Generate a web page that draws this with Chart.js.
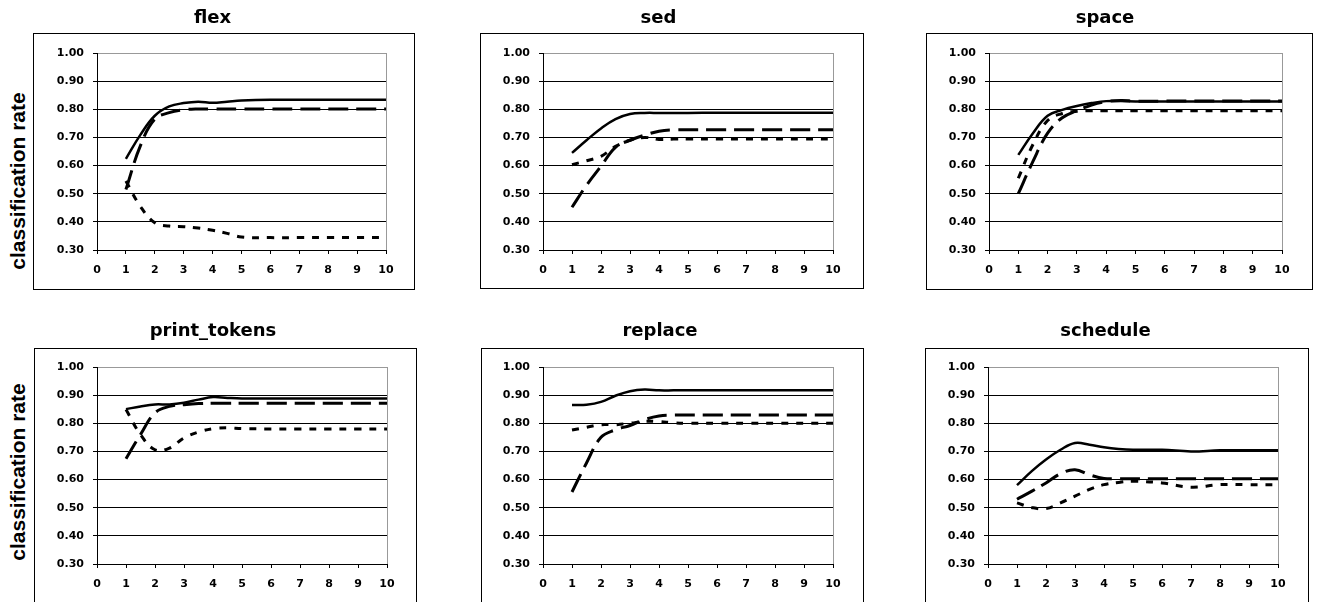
<!DOCTYPE html>
<html>
<head>
<meta charset="utf-8">
<script src="https://cdn.jsdelivr.net/npm/chart.js@4.4.0/dist/chart.umd.min.js"></script>
<style>
  body { margin: 0; width: 1322px; height: 602px; overflow: hidden; background: #fff; position: relative; }
  .box { position: absolute; border: 1px solid #000; box-sizing: border-box; }
  canvas { position: absolute; }
  .ylabel { position: absolute; left: 17.5px; font: bold 21px "Liberation Sans", Arial, sans-serif; white-space: nowrap; transform: translate(-50%, -50%) rotate(-90deg); }
</style>
</head>
<body>
<div class="box" style="left:33px;top:33px;width:382px;height:257px"></div>
<div class="box" style="left:480px;top:33px;width:384px;height:256px"></div>
<div class="box" style="left:926px;top:33px;width:387px;height:257px"></div>
<div class="box" style="left:34px;top:348px;width:383px;height:300px"></div>
<div class="box" style="left:481px;top:348px;width:383px;height:300px"></div>
<div class="box" style="left:925px;top:348px;width:384px;height:300px"></div>

<canvas id="flex" width="367" height="300" style="left:39px;top:0px"></canvas>
<canvas id="sed" width="369" height="300" style="left:484px;top:0px"></canvas>
<canvas id="space" width="374" height="300" style="left:928px;top:0px"></canvas>
<canvas id="print_tokens" width="368" height="302" style="left:39px;top:300px"></canvas>
<canvas id="replace" width="366" height="302" style="left:487px;top:300px"></canvas>
<canvas id="schedule" width="365" height="302" style="left:933px;top:300px"></canvas>

<div class="ylabel" style="top:181px">classification rate</div>
<div class="ylabel" style="top:472px">classification rate</div>

<script>
// x positions shared by every series
const xs = [1, 1.5, 2, 2.5, 3, 3.5, 4, 4.5, 5, 6, 7, 8, 9, 10];

const flexSolid  = [0.624, 0.709, 0.777, 0.810, 0.822, 0.827, 0.823, 0.827, 0.831, 0.834, 0.834, 0.834, 0.834, 0.834];
const flexDashed = [0.515, 0.670, 0.765, 0.788, 0.798, 0.801, 0.801, 0.801, 0.801, 0.801, 0.801, 0.801, 0.801, 0.801];
const flexDotted = [0.545, 0.455, 0.397, 0.385, 0.383, 0.378, 0.370, 0.359, 0.346, 0.344, 0.344, 0.344, 0.344, 0.344];

const sedSolid  = [0.645, 0.690, 0.732, 0.765, 0.783, 0.787, 0.787, 0.787, 0.787, 0.788, 0.788, 0.788, 0.788, 0.788];
const sedDashed = [0.452, 0.530, 0.598, 0.665, 0.690, 0.708, 0.722, 0.727, 0.727, 0.727, 0.727, 0.727, 0.727, 0.727];
const sedDotted = [0.603, 0.617, 0.633, 0.668, 0.690, 0.700, 0.693, 0.694, 0.694, 0.694, 0.694, 0.694, 0.694, 0.694];

const spaceSolid  = [0.638, 0.715, 0.777, 0.798, 0.812, 0.822, 0.829, 0.829, 0.828, 0.828, 0.828, 0.828, 0.828, 0.828];
const spaceDashed = [0.500, 0.615, 0.715, 0.770, 0.795, 0.815, 0.827, 0.831, 0.829, 0.829, 0.829, 0.829, 0.829, 0.829];
const spaceDotted = [0.555, 0.675, 0.760, 0.785, 0.793, 0.795, 0.795, 0.795, 0.795, 0.795, 0.795, 0.795, 0.795, 0.795];

const printSolid  = [0.850, 0.860, 0.867, 0.867, 0.873, 0.884, 0.893, 0.890, 0.888, 0.888, 0.888, 0.888, 0.888, 0.888];
const printDashed = [0.674, 0.760, 0.837, 0.860, 0.866, 0.870, 0.871, 0.871, 0.871, 0.871, 0.871, 0.871, 0.871, 0.871];
const printDotted = [0.849, 0.760, 0.706, 0.712, 0.748, 0.769, 0.781, 0.784, 0.781, 0.780, 0.780, 0.780, 0.780, 0.780];

const replaceSolid  = [0.865, 0.866, 0.876, 0.898, 0.914, 0.920, 0.917, 0.917, 0.917, 0.917, 0.917, 0.917, 0.917, 0.917];
const replaceDashed = [0.556, 0.659, 0.750, 0.777, 0.792, 0.813, 0.826, 0.829, 0.829, 0.829, 0.829, 0.829, 0.829, 0.829];
const replaceDotted = [0.776, 0.786, 0.795, 0.795, 0.800, 0.807, 0.806, 0.802, 0.800, 0.800, 0.800, 0.800, 0.800, 0.800];

const scheduleSolid  = [0.580, 0.629, 0.671, 0.706, 0.730, 0.724, 0.715, 0.709, 0.706, 0.706, 0.700, 0.704, 0.704, 0.704];
const scheduleDashed = [0.530, 0.558, 0.588, 0.621, 0.635, 0.617, 0.604, 0.603, 0.603, 0.603, 0.603, 0.603, 0.603, 0.603];
const scheduleDotted = [0.517, 0.501, 0.497, 0.517, 0.541, 0.565, 0.582, 0.590, 0.594, 0.588, 0.573, 0.582, 0.582, 0.582];

const tickFont = { family: 'DejaVu Sans', size: 11, weight: 'bold' };

function pts(values) {
    return values.map((v, i) => ({ x: xs[i], y: v }));
}

function makeChart(id, title, solid, dashed, dotted, g) {
    return new Chart(document.getElementById(id), {
        type: 'line',
        data: {
            datasets: [
                { label: 'solid', data: pts(solid), borderColor: '#000', borderWidth: 2.5 },
                { label: 'dashed', data: pts(dashed), borderColor: '#000', borderWidth: 3, borderDash: [20, 8] },
                { label: 'dotted', data: pts(dotted), borderColor: '#000', borderWidth: 3, borderDash: [7, 8] }
            ]
        },
        options: {
            responsive: false,
            animation: false,
            devicePixelRatio: 1,
            layout: { padding: { left: 0, right: 20, top: 0, bottom: g.bottom } },
            elements: { point: { radius: 0 }, line: { tension: 0.4, fill: false } },
            plugins: {
                legend: { display: false },
                tooltip: { enabled: false },
                title: {
                    display: true,
                    text: title,
                    color: '#000',
                    font: { family: 'DejaVu Sans', size: 18, weight: 'bold' },
                    padding: { top: g.tTop, bottom: g.tBottom }
                }
            },
            scales: {
                x: {
                    type: 'linear',
                    min: 0,
                    max: 10,
                    ticks: { stepSize: 1, color: '#000', font: tickFont, padding: 10, maxRotation: 0, autoSkip: false },
                    grid: {
                        color: ctx => (ctx.tick && ctx.tick.value === 10) ? '#999' : 'rgba(0,0,0,0)',
                        tickColor: '#000',
                        tickLength: 4
                    },
                    border: { color: '#000' },
                    afterFit: s => { s.height = 30; }
                },
                y: {
                    min: 0.3,
                    max: 1.0,
                    ticks: { stepSize: 0.1, color: '#000', font: tickFont, padding: 9, callback: v => v.toFixed(2) },
                    grid: {
                        color: ctx => (ctx.tick && Math.abs(ctx.tick.value - 1) < 1e-6) ? '#999' : '#000',
                        tickColor: '#000',
                        tickLength: 4
                    },
                    border: { color: '#000' },
                    afterFit: s => { s.width = g.yW; }
                }
            }
        }
    });
}

const topRow = { tTop: 7.3, tBottom: 24.1, bottom: 20 };
const bottomRow = { tTop: 21, tBottom: 24.4, bottom: 8 };

makeChart('flex', 'flex', flexSolid, flexDashed, flexDotted, { ...topRow, yW: 58 });
makeChart('sed', 'sed', sedSolid, sedDashed, sedDotted, { ...topRow, yW: 59 });
makeChart('space', 'space', spaceSolid, spaceDashed, spaceDotted, { ...topRow, yW: 61 });
makeChart('print_tokens', 'print_tokens', printSolid, printDashed, printDotted, { ...bottomRow, yW: 58 });
makeChart('replace', 'replace', replaceSolid, replaceDashed, replaceDotted, { ...bottomRow, yW: 56 });
makeChart('schedule', 'schedule', scheduleSolid, scheduleDashed, scheduleDotted, { ...bottomRow, yW: 55 });
</script>
</body>
</html>
